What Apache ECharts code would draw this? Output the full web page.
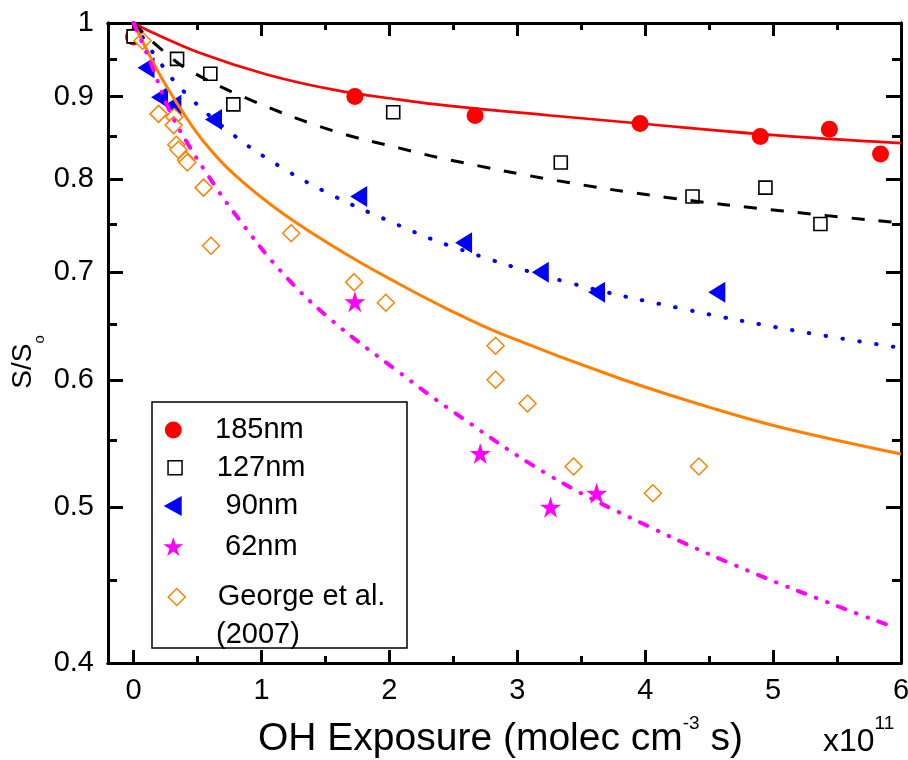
<!DOCTYPE html>
<html>
<head>
<meta charset="utf-8">
<script src="https://cdn.jsdelivr.net/npm/echarts@6/dist/echarts.min.js"></script>
<style>html,body{margin:0;padding:0;background:#fff}#c{width:908px;height:760px}</style>
</head>
<body>
<div id="c"></div>
<script>
// ---- tick labels ----
const xTicks = [0, 1, 2, 3, 4, 5, 6];
const xMinorTicks = [0.5, 1.5, 2.5, 3.5, 4.5, 5.5];
const yTicks = [0.4, 0.5, 0.6, 0.7, 0.8, 0.9, 1];
const yTickLabels = ['0.4', '0.5', '0.6', '0.7', '0.8', '0.9', '1'];
const yMinorTicks = [0.45, 0.55, 0.65, 0.75, 0.85, 0.95];

// ---- measured points [OH exposure (x1e11), S/So] ----
const nm185 = [[0, 0.98], [1.73, 0.90], [2.67, 0.876], [3.96, 0.866], [4.90, 0.850], [5.44, 0.859], [5.84, 0.829]];
const nm127 = [[0, 0.981], [0.34, 0.950], [0.60, 0.930], [0.78, 0.890], [2.03, 0.880], [3.34, 0.819], [4.37, 0.780], [4.94, 0.790], [5.37, 0.750]];
const nm90 = [[0.097, 0.938], [0.203, 0.899], [0.307, 0.889], [0.625, 0.871], [1.76, 0.780], [2.58, 0.730], [3.18, 0.700], [3.62, 0.680], [4.56, 0.680]];
const nm62 = [[1.73, 0.671], [2.71, 0.540], [3.26, 0.500], [3.62, 0.510]];
const george = [[0.07, 0.975], [0.195, 0.878], [0.318, 0.874], [0.313, 0.864], [0.334, 0.840], [0.35, 0.834], [0.41, 0.822], [0.42, 0.819], [0.547, 0.790], [0.605, 0.727], [1.232, 0.740], [1.724, 0.690], [1.972, 0.670], [2.83, 0.630], [2.83, 0.600], [3.08, 0.580], [3.44, 0.530], [4.06, 0.510], [4.42, 0.530]];

// ---- fitted curves ----
const fit185 = [[0, 1], [0.13, 0.988], [0.52, 0.958], [1.04, 0.929], [1.56, 0.909], [2.08, 0.896], [2.47, 0.888], [3.26, 0.876], [3.96, 0.866], [4.9, 0.853], [6, 0.842]];
const fit127 = [[0, 1], [0.065, 0.988], [0.21, 0.964], [0.43, 0.935], [0.94, 0.894], [1.56, 0.857], [2.08, 0.836], [2.47, 0.822], [3.31, 0.798], [4.17, 0.779], [5.08, 0.764], [6, 0.751]];
const fit90 = [[0, 1], [0.178, 0.952], [0.39, 0.907], [0.78, 0.852], [1.17, 0.812], [1.56, 0.781], [1.95, 0.756], [2.47, 0.727], [3.39, 0.690], [4.30, 0.664], [5.16, 0.644], [6, 0.628]];
const fitGeorge = [[0, 1], [0.104, 0.962], [0.234, 0.920], [0.39, 0.879], [0.547, 0.844], [0.78, 0.806], [1.17, 0.761], [1.69, 0.716], [2.08, 0.688], [2.47, 0.663], [2.87, 0.641], [3.78, 0.602], [4.56, 0.575], [5.08, 0.560], [6, 0.5395]];
const fit62 = [[0, 1], [0.13, 0.946], [0.281, 0.882], [0.417, 0.843], [0.568, 0.807], [0.781, 0.763], [1.172, 0.698], [1.5625, 0.652], [2.083, 0.606], [2.474, 0.575], [3.255, 0.523], [4.036, 0.486], [4.818, 0.456], [5.6, 0.431], [5.95, 0.421]];

const FONT = "'Liberation Sans', Arial, Helvetica, sans-serif";
const STAR = 'path://M50,0L61.23,34.55L97.55,34.55L68.16,55.9L79.39,90.45L50,69.1L20.61,90.45L31.84,55.9L2.45,34.55L38.77,34.55Z';
const LEFT_TRIANGLE = 'path://M0,50L100,0L100,100Z';

const yTicksLog = yTicks.map(Math.log10);
const yMinorLog = yMinorTicks.map(Math.log10);
const yLogMin = Math.log10(yTicks[0]);
const yLogMax = Math.log10(yTicks[yTicks.length - 1]);

function yLabel(v) {
  let best = 0;
  for (let i = 0; i < yTicksLog.length; i++) {
    if (Math.abs(yTicksLog[i] - v) < Math.abs(yTicksLog[best] - v)) best = i;
  }
  return yTickLabels[best];
}

function xAxisDef(pos, ticks, len, withLabel) {
  return {
    type: 'value', position: pos, min: -0.2, max: 6,
    axisLine: { show: true, onZero: false, lineStyle: { color: '#000', width: 3 } },
    axisTick: { show: true, inside: true, length: len, customValues: ticks, lineStyle: { color: '#000', width: 3 } },
    axisLabel: withLabel ? { show: true, customValues: ticks, margin: 13, color: '#000', fontSize: 29, fontFamily: FONT } : { show: false },
    splitLine: { show: false }
  };
}
function yAxisDef(pos, ticks, len, withLabel) {
  return {
    type: 'value', position: pos, min: yLogMin, max: yLogMax,
    axisLine: { show: true, onZero: false, lineStyle: { color: '#000', width: 3 } },
    axisTick: { show: true, inside: true, length: len, customValues: ticks, lineStyle: { color: '#000', width: 3 } },
    axisLabel: withLabel ? { show: true, customValues: ticks, margin: 14, color: '#000', fontSize: 29, fontFamily: FONT, formatter: yLabel } : { show: false },
    splitLine: { show: false }
  };
}

function legendDef(name, cx, cy, w, h, textX) {
  const left = cx - w / 2;
  return {
    data: [name], orient: 'vertical', left: left, top: cy - 14.5, padding: 0,
    itemWidth: w, itemHeight: h, selectedMode: false, symbolKeepAspect: false,
    itemStyle: { borderWidth: 1.5, opacity: 1 },
    textStyle: { fontSize: 29, lineHeight: 29, color: '#000', fontFamily: FONT, padding: [0, 0, 0, textX - (left + w + 5)] }
  };
}

const chart = echarts.init(document.getElementById('c'), null, { renderer: 'canvas' });
chart.setOption({
  backgroundColor: '#fff',
  animation: false,
  grid: { left: 108, right: 7, top: 23, bottom: 97, containLabel: false, outerBoundsMode: 'none' },
  xAxis: [
    xAxisDef('bottom', xTicks, 13, true),
    xAxisDef('bottom', xMinorTicks, 7, false),
    xAxisDef('top', xTicks, 13, false),
    xAxisDef('top', xMinorTicks, 7, false)
  ],
  yAxis: [
    { type: 'log', logBase: 10, min: 0.4, max: 1, show: false, axisLine: { onZero: false } },
    yAxisDef('left', yTicksLog, 15, true),
    yAxisDef('left', yMinorLog, 9, false),
    yAxisDef('right', yTicksLog, 15, false),
    yAxisDef('right', yMinorLog, 9, false)
  ],
  legend: [
    legendDef('185nm', 173.3, 430, 17, 17, 215),
    legendDef('127nm', 174.3, 467.8, 14, 14, 216),
    legendDef('90nm', 172.7, 506, 18, 20, 225.5),
    legendDef('62nm', 173.3, 546.5, 20, 19, 225),
    legendDef('George et al.', 176, 597, 17, 17, 217)
  ],
  graphic: [
    { type: 'rect', shape: { x: 152, y: 402, width: 255, height: 246 }, style: { fill: 'none', stroke: '#000', lineWidth: 1.5 }, z: 50 },
    { type: 'text', x: 216, y: 635, style: { text: '(2007)', fontSize: 29, fontFamily: FONT, fill: '#000', align: 'left', verticalAlign: 'middle' }, z: 50 },
    { type: 'text', x: 258, y: 739, style: {
        text: '{m|OH Exposure (molec cm}{s|-3}{m| s)}', align: 'left', verticalAlign: 'middle', fill: '#000',
        rich: { m: { fontSize: 39, lineHeight: 49, fontFamily: FONT, fill: '#000' }, s: { fontSize: 19, lineHeight: 19, verticalAlign: 'top', fontFamily: FONT, fill: '#000' } }
      } },
    { type: 'text', x: 823, y: 742, style: {
        text: '{m|x10}{s|11}', align: 'left', verticalAlign: 'middle', fill: '#000',
        rich: { m: { fontSize: 32, lineHeight: 55, fontFamily: FONT, fill: '#000' }, s: { fontSize: 19, lineHeight: 19, verticalAlign: 'top', fontFamily: FONT, fill: '#000' } }
      } },
    { type: 'text', x: 23, y: 362, rotation: Math.PI / 2, style: {
        text: '{m|S/S}{s|o}', align: 'center', verticalAlign: 'middle', fill: '#000',
        rich: { m: { fontSize: 28, lineHeight: 48, fontFamily: FONT, fill: '#000' }, s: { fontSize: 15, lineHeight: 15, verticalAlign: 'bottom', fontFamily: FONT, fill: '#000' } }
      } }
  ],
  series: [
    { name: '185nm', type: 'scatter', xAxisIndex: 0, yAxisIndex: 0, data: nm185, symbol: 'circle', symbolSize: 17, itemStyle: { color: '#ff0000', opacity: 1 }, z: 3 },
    { name: '127nm', type: 'scatter', xAxisIndex: 0, yAxisIndex: 0, data: nm127, symbol: 'rect', symbolSize: 13, itemStyle: { color: '#ffffff', borderColor: '#000', borderWidth: 1.6, opacity: 1 }, z: 3 },
    { name: '90nm', type: 'scatter', xAxisIndex: 0, yAxisIndex: 0, data: nm90, symbol: LEFT_TRIANGLE, symbolSize: [17, 21], symbolKeepAspect: false, itemStyle: { color: '#0000ff', opacity: 1 }, z: 3 },
    { name: '62nm', type: 'scatter', xAxisIndex: 0, yAxisIndex: 0, data: nm62, symbol: STAR, symbolSize: 21, itemStyle: { color: '#ff00ff', opacity: 1 }, z: 3 },
    { name: 'George et al.', type: 'scatter', xAxisIndex: 0, yAxisIndex: 0, data: george, symbol: 'diamond', symbolSize: 17, itemStyle: { color: '#ffffff', borderColor: '#ff8000', borderWidth: 1.5, opacity: 1 }, z: 3 },
    { name: 'fit185', type: 'line', xAxisIndex: 0, yAxisIndex: 0, data: fit185, showSymbol: false, symbol: 'none', smooth: 0.4, lineStyle: { color: '#ff0000', width: 2.7 }, z: 4 },
    { name: 'fit127', type: 'line', xAxisIndex: 0, yAxisIndex: 0, data: fit127, showSymbol: false, symbol: 'none', smooth: 0.4, lineStyle: { color: '#000', width: 3, type: [13, 14] }, z: 4 },
    { name: 'fit90', type: 'line', xAxisIndex: 0, yAxisIndex: 0, data: fit90, showSymbol: false, symbol: 'none', smooth: 0.4, lineStyle: { color: '#0000ff', width: 4, type: [0.5, 16.5], cap: 'round' }, z: 4 },
    { name: 'fitGeorge', type: 'line', xAxisIndex: 0, yAxisIndex: 0, data: fitGeorge, showSymbol: false, symbol: 'none', smooth: 0.4, lineStyle: { color: '#ff8000', width: 3 }, z: 4 },
    { name: 'fit62', type: 'line', xAxisIndex: 0, yAxisIndex: 0, data: fit62, showSymbol: false, symbol: 'none', smooth: 0.4, lineStyle: { color: '#ff00ff', width: 4, type: [8, 11.5, 0.5, 11.5, 0.5, 11], cap: 'round' }, z: 4 }
  ]
});
</script>
</body>
</html>
